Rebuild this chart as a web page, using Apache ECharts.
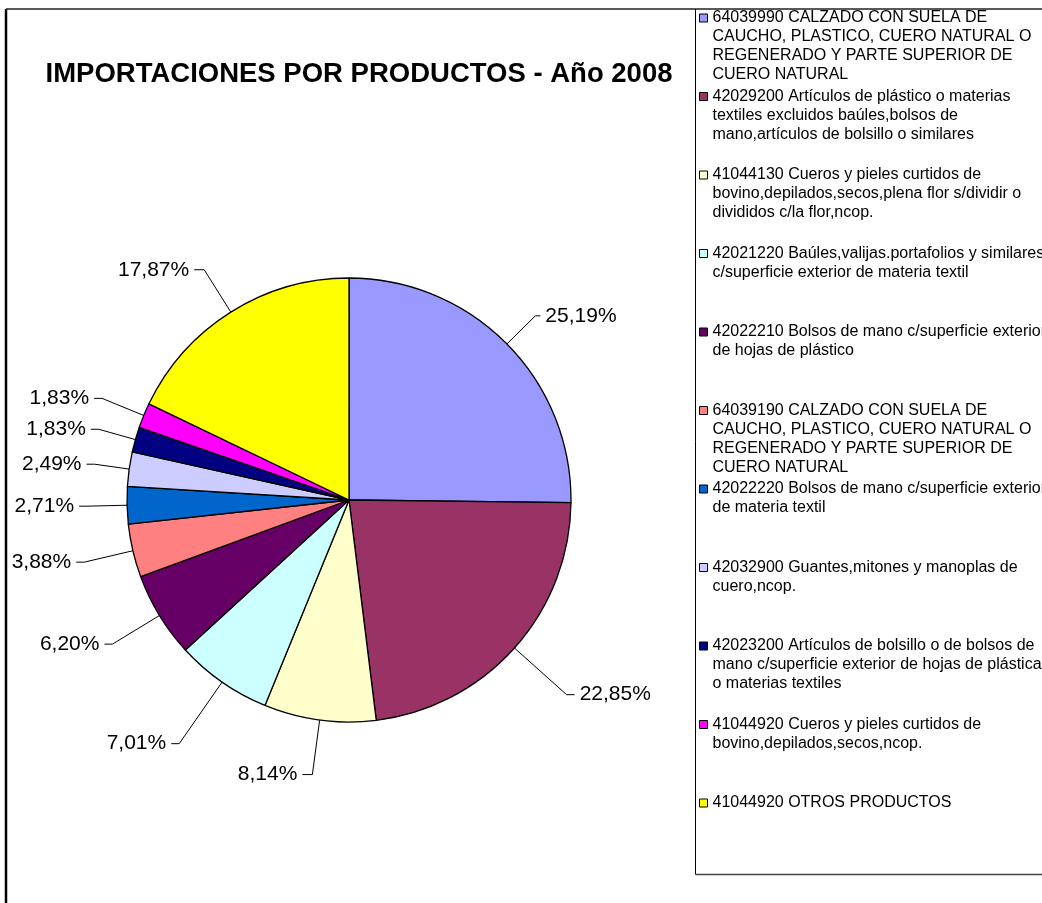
<!DOCTYPE html>
<html>
<head>
<meta charset="utf-8">
<script src="https://cdn.jsdelivr.net/npm/echarts@6/dist/echarts.min.js"></script>
<style>
  html, body { margin: 0; padding: 0; background: #fff; }
  #chart { width: 1042px; height: 903px; }
</style>
</head>
<body>
<div id="chart"></div>
<script>
// legend texts, wrapped the way the original legend box shows them
const products = [
  "64039990 CALZADO CON SUELA DE\nCAUCHO, PLASTICO, CUERO NATURAL O\nREGENERADO Y PARTE SUPERIOR DE\nCUERO NATURAL",
  "42029200 Artículos de plástico o materias\ntextiles excluidos baúles,bolsos de\nmano,artículos de bolsillo o similares",
  "41044130 Cueros y pieles curtidos de\nbovino,depilados,secos,plena flor s/dividir o\ndivididos c/la flor,ncop.",
  "42021220 Baúles,valijas.portafolios y similares\nc/superficie exterior de materia textil",
  "42022210 Bolsos de mano c/superficie exterior\nde hojas de plástico",
  "64039190 CALZADO CON SUELA DE\nCAUCHO, PLASTICO, CUERO NATURAL O\nREGENERADO Y PARTE SUPERIOR DE\nCUERO NATURAL ",
  "42022220 Bolsos de mano c/superficie exterior\nde materia textil",
  "42032900 Guantes,mitones y manoplas de\ncuero,ncop.",
  "42023200 Artículos de bolsillo o de bolsos de\nmano c/superficie exterior de hojas de plástica\no materias textiles",
  "41044920 Cueros y pieles curtidos de\nbovino,depilados,secos,ncop.",
  "41044920 OTROS PRODUCTOS"
];
const shares = [25.19, 22.85, 8.14, 7.01, 6.20, 3.88, 2.71, 2.49, 1.83, 1.83, 17.87];
const colors = ["#9999FF", "#993366", "#FFFFCC", "#CCFFFF", "#660066", "#FF8080",
                "#0066CC", "#CCCCFF", "#000080", "#FF00FF", "#FFFF00"];
// leader line lengths per slice (first segment, second segment)
const leaderLen = [40, 70, 55, 75, 55, 50, 40, 35, 38, 45, 50];
const leaderLen2 = [5, 8, 10, 8, 8, 8, 8, 8, 8, 8, 10];

const FONT = "Liberation Sans, Arial, sans-serif";
const LH = 19;          // legend line height
const STEP = 78.5;      // distance between legend entries
const FIRST = 18;       // first legend line centre

const chart = echarts.init(document.getElementById("chart"), null, { renderer: "canvas" });

// one legend block per entry so every entry keeps its fixed slot;
// blank lines in front keep the marker next to the first text line
const legends = products.map((name, i) => {
  const n = name.split("\n").length;
  return {
    data: [name],
    orient: "vertical",
    left: 699,
    top: FIRST + STEP * i - (2 * n - 1) * LH / 2,
    padding: 0,
    icon: "rect",
    itemWidth: 8,
    itemHeight: 8,
    selectedMode: false,
    itemStyle: { borderColor: "#000", borderWidth: 1 },
    formatter: (nm) => " \n".repeat(n - 1) + nm,
    textStyle: {
      fontFamily: FONT,
      fontSize: 16,
      lineHeight: LH,
      color: "#000",
    },
  };
});

chart.setOption({
  animation: false,
  title: {
    text: "IMPORTACIONES POR PRODUCTOS - Año 2008",
    left: 359,
    textAlign: "center",
    top: 60,
    padding: 0,
    textStyle: { fontFamily: FONT, fontSize: 27.5, fontWeight: "bold", color: "#000" },
  },
  legend: legends,
  graphic: [
    // outer chart frame (left and top edges visible)
    { type: "line", shape: { x1: 6, y1: 9, x2: 6, y2: 910 }, style: { stroke: "#000", lineWidth: 2.5 } },
    { type: "line", shape: { x1: 6, y1: 9, x2: 1050, y2: 9 }, style: { stroke: "#222", lineWidth: 1.5 } },
    // legend box
    { type: "line", shape: { x1: 695.5, y1: 9, x2: 695.5, y2: 874.5 }, style: { stroke: "#000", lineWidth: 1 } },
    { type: "line", shape: { x1: 695.5, y1: 874.5, x2: 1050, y2: 874.5 }, style: { stroke: "#444", lineWidth: 1.5 } },
  ],
  series: [
    {
      type: "pie",
      center: [349, 500],
      radius: 222,
      startAngle: 90,
      clockwise: true,
      avoidLabelOverlap: true,
      emphasis: { disabled: true },
      itemStyle: { borderColor: "#000", borderWidth: 1.3 },
      label: {
        show: true,
        fontFamily: FONT,
        fontSize: 21,
        color: "#000",
        formatter: (p) => p.value.toFixed(2).replace(".", ",") + "%",
      },
      labelLine: {
        show: true,
        smooth: false,
        lineStyle: { color: "#000", width: 1 },
      },
      data: products.map((name, i) => ({
        name: name,
        value: shares[i],
        itemStyle: { color: colors[i] },
        labelLine: { length: leaderLen[i], length2: leaderLen2[i] },
      })),
    },
  ],
});
</script>
</body>
</html>
